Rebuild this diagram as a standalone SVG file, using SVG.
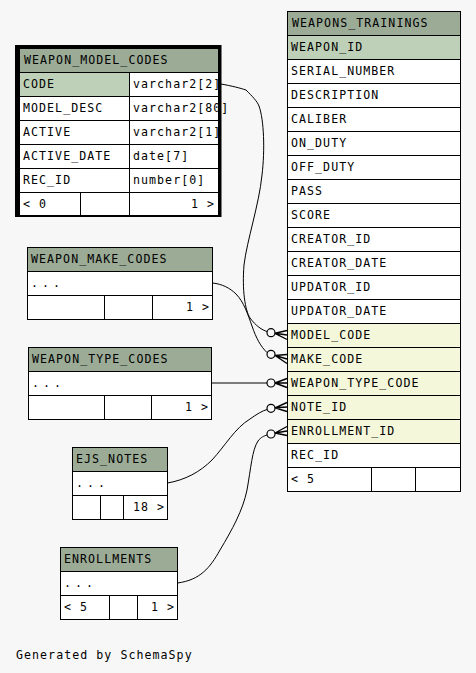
<svg xmlns="http://www.w3.org/2000/svg" width="476" height="673" viewBox="0 0 476 673">
<style>
text{font-family:"DejaVu Sans Mono","Liberation Mono",monospace;font-size:11.6px;letter-spacing:1.05px;fill:#000}
.d{letter-spacing:4px}
.c{stroke:#000;stroke-width:1;fill:#fff}
.h{stroke:#000;stroke-width:1;fill:#9bab96}
.pk{stroke:#000;stroke-width:1;fill:#bed1b8}
.fk{stroke:#000;stroke-width:1;fill:#f4f7da}
.e{fill:none;stroke:#000;stroke-width:1}
.o{fill:#f7f7f7;stroke:#000;stroke-width:1.2}
.cr{fill:none;stroke:#000;stroke-width:1.4}
.r{text-anchor:end}
</style>
<rect width="476" height="673" fill="#f7f7f7"/>

<g id="weapons_trainings">
<rect class="h" x="287.5" y="11.5" width="173" height="24"/>
<rect class="pk" x="287.5" y="35.5" width="173" height="24"/>
<rect class="c" x="287.5" y="59.5" width="173" height="24"/>
<rect class="c" x="287.5" y="83.5" width="173" height="24"/>
<rect class="c" x="287.5" y="107.5" width="173" height="24"/>
<rect class="c" x="287.5" y="131.5" width="173" height="24"/>
<rect class="c" x="287.5" y="155.5" width="173" height="24"/>
<rect class="c" x="287.5" y="179.5" width="173" height="24"/>
<rect class="c" x="287.5" y="203.5" width="173" height="24"/>
<rect class="c" x="287.5" y="227.5" width="173" height="24"/>
<rect class="c" x="287.5" y="251.5" width="173" height="24"/>
<rect class="c" x="287.5" y="275.5" width="173" height="24"/>
<rect class="c" x="287.5" y="299.5" width="173" height="24"/>
<rect class="fk" x="287.5" y="323.5" width="173" height="24"/>
<rect class="fk" x="287.5" y="347.5" width="173" height="24"/>
<rect class="fk" x="287.5" y="371.5" width="173" height="24"/>
<rect class="fk" x="287.5" y="395.5" width="173" height="24"/>
<rect class="fk" x="287.5" y="419.5" width="173" height="24"/>
<rect class="c" x="287.5" y="443.5" width="173" height="24"/>
<rect class="c" x="287.5" y="467.5" width="84" height="24"/>
<rect class="c" x="371.5" y="467.5" width="44" height="24"/>
<rect class="c" x="415.5" y="467.5" width="45" height="24"/>
<text x="292" y="27">WEAPONS_TRAININGS</text>
<text x="291" y="51">WEAPON_ID</text>
<text x="291" y="75">SERIAL_NUMBER</text>
<text x="291" y="99">DESCRIPTION</text>
<text x="291" y="123">CALIBER</text>
<text x="291" y="147">ON_DUTY</text>
<text x="291" y="171">OFF_DUTY</text>
<text x="291" y="195">PASS</text>
<text x="291" y="219">SCORE</text>
<text x="291" y="243">CREATOR_ID</text>
<text x="291" y="267">CREATOR_DATE</text>
<text x="291" y="291">UPDATOR_ID</text>
<text x="291" y="315">UPDATOR_DATE</text>
<text x="291" y="339">MODEL_CODE</text>
<text x="291" y="363">MAKE_CODE</text>
<text x="291" y="387">WEAPON_TYPE_CODE</text>
<text x="291" y="411">NOTE_ID</text>
<text x="291" y="435">ENROLLMENT_ID</text>
<text x="291" y="459">REC_ID</text>
<text x="291" y="483">&lt; 5</text>
</g>

<g id="weapon_model_codes">
<rect x="15" y="45" width="206.5" height="172" fill="#000"/>
<rect class="h" x="19.5" y="48.5" width="199" height="24"/>
<rect class="pk" x="19.5" y="72.5" width="110" height="24"/>
<rect class="c" x="129.5" y="72.5" width="89" height="24"/>
<rect class="c" x="19.5" y="96.5" width="110" height="24"/>
<rect class="c" x="129.5" y="96.5" width="89" height="24"/>
<rect class="c" x="19.5" y="120.5" width="110" height="24"/>
<rect class="c" x="129.5" y="120.5" width="89" height="24"/>
<rect class="c" x="19.5" y="144.5" width="110" height="24"/>
<rect class="c" x="129.5" y="144.5" width="89" height="24"/>
<rect class="c" x="19.5" y="168.5" width="110" height="24"/>
<rect class="c" x="129.5" y="168.5" width="89" height="24"/>
<rect class="c" x="19.5" y="192.5" width="61" height="23"/>
<rect class="c" x="80.5" y="192.5" width="49" height="23"/>
<rect class="c" x="129.5" y="192.5" width="89" height="23"/>
<text x="24" y="64">WEAPON_MODEL_CODES</text>
<text x="23" y="88">CODE</text>
<text x="133" y="88">varchar2[2]</text>
<text x="23" y="112">MODEL_DESC</text>
<text x="133" y="112">varchar2[80]</text>
<text x="23" y="136">ACTIVE</text>
<text x="133" y="136">varchar2[1]</text>
<text x="23" y="160">ACTIVE_DATE</text>
<text x="133" y="160">date[7]</text>
<text x="23" y="184">REC_ID</text>
<text x="133" y="184">number[0]</text>
<text x="23" y="208">&lt; 0</text>
<text class="r" x="215" y="208">1 &gt;</text>
</g>

<g id="weapon_make_codes">
<rect class="h" x="27.5" y="247.5" width="185" height="24"/>
<rect class="c" x="27.5" y="271.5" width="185" height="24"/>
<rect class="c" x="27.5" y="295.5" width="77" height="24"/>
<rect class="c" x="104.5" y="295.5" width="48" height="24"/>
<rect class="c" x="152.5" y="295.5" width="60" height="24"/>
<text x="31" y="263">WEAPON_MAKE_CODES</text>
<text class="d" x="31" y="287">...</text>
<text class="r" x="210" y="311">1 &gt;</text>
</g>

<g id="weapon_type_codes">
<rect class="h" x="28.5" y="347.5" width="183" height="24"/>
<rect class="c" x="28.5" y="371.5" width="183" height="24"/>
<rect class="c" x="28.5" y="395.5" width="76" height="24"/>
<rect class="c" x="104.5" y="395.5" width="47" height="24"/>
<rect class="c" x="151.5" y="395.5" width="60" height="24"/>
<text x="32" y="363">WEAPON_TYPE_CODES</text>
<text class="d" x="32" y="387">...</text>
<text class="r" x="209" y="411">1 &gt;</text>
</g>

<g id="ejs_notes">
<rect class="h" x="72.5" y="447.5" width="95" height="24"/>
<rect class="c" x="72.5" y="471.5" width="95" height="24"/>
<rect class="c" x="72.5" y="495.5" width="28" height="24"/>
<rect class="c" x="100.5" y="495.5" width="23" height="24"/>
<rect class="c" x="123.5" y="495.5" width="44" height="24"/>
<text x="76" y="463">EJS_NOTES</text>
<text class="d" x="76" y="487">...</text>
<text class="r" x="165" y="511">18 &gt;</text>
</g>

<g id="enrollments">
<rect class="h" x="60.5" y="547.5" width="117" height="24"/>
<rect class="c" x="60.5" y="571.5" width="117" height="24"/>
<rect class="c" x="60.5" y="595.5" width="49" height="24"/>
<rect class="c" x="109.5" y="595.5" width="28" height="24"/>
<rect class="c" x="137.5" y="595.5" width="40" height="24"/>
<text x="64" y="563">ENROLLMENTS</text>
<text class="d" x="64" y="587">...</text>
<text x="64" y="611">&lt; 5</text>
<text class="r" x="175" y="611">1 &gt;</text>
</g>

<g id="connectors">
<path class="e" d="M221,84 C232,86 240,88 246,90 C252,96 257,101 259,106 C264,120 265,150 262,175 C259,205 247,240 244,265 C242,290 245,310 250,318 C256,326 262,330 267,331.5"/>
<circle class="o" cx="271" cy="332.7" r="4"/>
<path class="cr" d="M275,333.3 L287,330.5 M275,333.3 L287,335 M275,333.3 L287,339.5"/>

<path class="e" d="M212.5,283 C222,284 230,288 236,294 C244,302 248,315 252,326 C256,338 261,347 267,352.5"/>
<circle class="o" cx="271" cy="354.3" r="4"/>
<path class="cr" d="M275,355.5 L287,354.5 M275,355.5 L287,359 M275,355.5 L287,363.5"/>

<path class="e" d="M211.5,383 L267,383"/>
<circle class="o" cx="271" cy="383" r="4"/>
<path class="cr" d="M275,383 L287,378.5 M275,383 L287,383 M275,383 L287,387.5"/>

<path class="e" d="M167.5,483 C185,480 200,472 212,460 C225,446 235,428 250,419 C257,414 262,411 267,409.5"/>
<circle class="o" cx="271" cy="408.3" r="4"/>
<path class="cr" d="M275,407.8 L287,402.5 M275,407.8 L287,407 M275,407.8 L287,411.5"/>

<path class="e" d="M177.5,583 C200,580 210,568 220,550 C232,530 243,510 247,490 C251,468 252,450 258,441 C261,437 264,436 267,435"/>
<circle class="o" cx="271" cy="434" r="4"/>
<path class="cr" d="M275,433 L287,426.5 M275,433 L287,431 M275,433 L287,435.5"/>
</g>

<text x="16" y="659">Generated by SchemaSpy</text>
</svg>
